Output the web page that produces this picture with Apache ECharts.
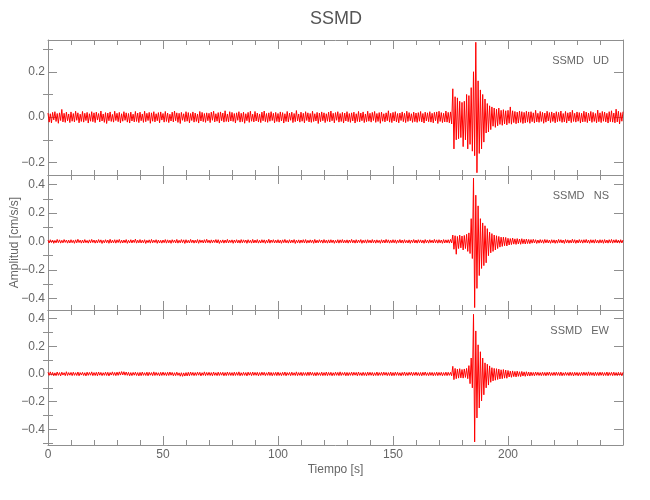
<!DOCTYPE html>
<html><head><meta charset="utf-8">
<script src="https://cdn.jsdelivr.net/npm/echarts@6/dist/echarts.min.js"></script>
<style>html,body{margin:0;padding:0;background:#fff}#c{width:650px;height:500px}</style>
</head><body><div id="c"></div>
<script>
// Sampling of the traces: one value every timeStep seconds, starting at t = 0
const timeStep = 0.5;
const xMin = 0, xMax = 250;
const xLabels = [0, 50, 100, 150, 200];

// Acceleration [cm/s/s], vertical component (UD)
const udValues = [
.018,-.022,.015,-.025,.021,-.012,.024,-.019,.016,-.027,.019,-.015,.034,-.021,.017,-.023,.022,-.016,.014,-.024,
.023,-.018,.016,-.021,.026,-.014,.019,-.025,.013,-.019,.025,-.022,.017,-.015,.021,-.026,.015,-.018,.024,-.02,
.019,-.024,.022,-.013,.016,-.021,.027,-.017,.014,-.023,.02,-.028,.018,-.016,.023,-.019,.012,-.022,.026,-.015,
.017,-.02,.021,-.025,.015,-.018,.024,-.014,.019,-.022,.016,-.026,.022,-.017,.013,-.021,.025,-.019,.018,-.024,
.022,-.016,.014,-.023,.026,-.02,.017,-.015,.021,-.027,.019,-.018,.024,-.021,.015,-.016,.02,-.025,.023,-.013,
.016,-.022,.025,-.019,.018,-.024,.013,-.017,.022,-.021,.027,-.016,.019,-.023,.017,-.028,.021,-.014,.015,-.02,
.024,-.018,.02,-.025,.016,-.015,.023,-.022,.018,-.019,.014,-.026,.025,-.017,.021,-.02,.016,-.023,.019,-.016,
.017,-.024,.022,-.014,.026,-.021,.015,-.018,.02,-.025,.023,-.016,.018,-.022,.028,-.019,.014,-.021,.024,-.017,
.021,-.019,.016,-.026,.019,-.014,.024,-.022,.017,-.02,.022,-.027,.015,-.016,.021,-.023,.026,-.018,.013,-.021,
.025,-.017,.018,-.021,.014,-.024,.022,-.016,.027,-.02,.016,-.023,.019,-.018,.024,-.015,.017,-.025,.021,-.019,
.016,-.022,.023,-.017,.02,-.026,.015,-.019,.025,-.021,.018,-.014,.022,-.024,.016,-.02,.029,-.017,.014,-.022,
.022,-.018,.017,-.025,.024,-.015,.019,-.021,.016,-.023,.026,-.019,.015,-.017,.021,-.028,.018,-.02,.023,-.016,
.019,-.024,.015,-.018,.022,-.021,.027,-.016,.017,-.025,.02,-.014,.024,-.022,.016,-.019,.021,-.026,.018,-.017,
.024,-.02,.016,-.023,.019,-.017,.022,-.026,.015,-.019,.025,-.021,.018,-.016,.023,-.024,.014,-.02,.026,-.018,
.017,-.022,.021,-.015,.025,-.023,.016,-.019,.02,-.027,.022,-.018,.015,-.021,.019,-.016,.028,-.022,.017,-.024,
.021,-.017,.024,-.021,.016,-.025,.018,-.015,.023,-.02,.017,-.024,.026,-.019,.02,-.016,.015,-.023,.022,-.02,
.018,-.023,.02,-.018,.025,-.021,.016,-.026,.022,-.017,.019,-.02,.024,-.022,.017,-.025,.021,-.016,.023,-.028,
.026,-.019,.02,-.024,.017,-.021,.027,-.022,.021,-.025,.023,-.03,.125,-.14,.09,-.1,.085,-.095,.07,-.09,
.065,-.13,.07,-.1,.1,-.14,.095,-.12,.13,-.15,.2,-.17,.33,-.245,.16,-.16,.12,-.14,.1,-.11,
.08,-.07,.06,-.065,.05,-.055,.045,-.04,.04,-.045,.035,-.038,.04,-.032,.03,-.036,.033,-.03,.028,-.034,
.03,-.027,.045,-.031,.028,-.024,.025,-.029,.022,-.026,.027,-.023,.024,-.028,.021,-.025,.026,-.022,.023,-.027,
.024,-.02,.019,-.026,.03,-.021,.017,-.023,.025,-.019,.021,-.027,.018,-.022,.026,-.017,.02,-.024,.023,-.019,
.018,-.025,.024,-.02,.021,-.018,.027,-.023,.016,-.021,.025,-.026,.019,-.017,.022,-.024,.03,-.019,.017,-.022,
.023,-.018,.02,-.026,.017,-.021,.026,-.02,.022,-.024,.018,-.017,.025,-.023,.021,-.019,.016,-.025,.031,-.02,
.019,-.024,.025,-.018,.022,-.021,.017,-.026,.024,-.02,.028,-.022,.018,-.025,.035,-.021,.026,-.03,.02,-.018,
.024];

// North-South component (NS)
const nsValues = [
.009,-.011,.012,-.008,.01,-.013,.007,-.01,.014,-.009,.011,-.012,.008,-.01,.013,-.007,.01,-.012,.009,-.011,
.012,-.009,.008,-.013,.011,-.01,.015,-.008,.009,-.012,.01,-.011,.013,-.009,.007,-.012,.011,-.01,.014,-.008,
.01,-.012,.009,-.011,.013,-.008,.011,-.014,.008,-.01,.012,-.009,.01,-.013,.015,-.011,.009,-.01,.012,-.012,
.011,-.008,.014,-.012,.009,-.011,.01,-.009,.013,-.013,.008,-.01,.012,-.011,.01,-.008,.016,-.012,.009,-.01,
.013,-.011,.009,-.01,.012,-.014,.008,-.009,.011,-.012,.014,-.01,.009,-.008,.012,-.013,.01,-.011,.008,-.012,
.01,-.009,.013,-.012,.011,-.01,.009,-.013,.012,-.008,.01,-.011,.014,-.012,.008,-.01,.013,-.009,.011,-.014,
.012,-.01,.008,-.011,.014,-.009,.01,-.012,.009,-.01,.013,-.013,.011,-.008,.009,-.011,.012,-.01,.015,-.009,
.009,-.012,.011,-.01,.01,-.008,.013,-.011,.012,-.014,.008,-.009,.011,-.012,.01,-.01,.014,-.011,.009,-.008,
.011,-.013,.01,-.009,.012,-.011,.009,-.012,.013,-.01,.011,-.008,.01,-.013,.012,-.009,.008,-.012,.014,-.011,
.01,-.01,.013,-.012,.008,-.011,.012,-.009,.011,-.013,.009,-.01,.015,-.012,.01,-.008,.012,-.011,.009,-.01,
.012,-.011,.009,-.013,.011,-.009,.014,-.01,.008,-.012,.012,-.011,.01,-.009,.013,-.014,.009,-.01,.011,-.012,
.01,-.009,.012,-.011,.013,-.012,.008,-.01,.011,-.009,.01,-.013,.014,-.011,.009,-.01,.012,-.008,.01,-.012,
.013,-.01,.009,-.012,.011,-.011,.012,-.009,.01,-.013,.008,-.01,.012,-.012,.011,-.009,.013,-.011,.009,-.01,
.011,-.012,.01,-.009,.014,-.01,.009,-.012,.012,-.011,.01,-.008,.013,-.013,.009,-.01,.011,-.012,.012,-.009,
.009,-.011,.013,-.01,.01,-.012,.011,-.009,.008,-.013,.012,-.01,.01,-.011,.014,-.009,.011,-.012,.009,-.01,
.012,-.01,.011,-.013,.009,-.009,.013,-.011,.01,-.012,.012,-.01,.008,-.011,.011,-.013,.01,-.009,.013,-.011,
.01,-.012,.012,-.009,.011,-.011,.009,-.013,.013,-.01,.01,-.012,.012,-.009,.009,-.011,.014,-.01,.011,-.012,
.012,-.01,.01,-.013,.013,-.011,.011,-.01,.012,-.012,.014,-.011,.045,-.055,.04,-.09,.035,-.05,.044,-.045,
.038,-.06,.042,-.05,.05,-.07,.06,-.085,.16,-.12,.445,-.465,.325,-.33,.25,-.24,.16,-.19,.13,-.17,
.11,-.15,.09,-.1,.065,-.08,.055,-.07,.045,-.06,.04,-.05,.035,-.04,.03,-.035,.03,-.03,.028,-.032,
.022,-.025,.02,-.022,.024,-.019,.018,-.021,.02,-.018,.017,-.02,.019,-.016,.015,-.018,.017,-.015,.014,-.016,
.013,-.012,.015,-.011,.012,-.014,.01,-.012,.013,-.01,.011,-.013,.014,-.01,.012,-.011,.01,-.013,.012,-.01,
.011,-.013,.01,-.012,.014,-.009,.012,-.011,.01,-.014,.013,-.01,.011,-.012,.009,-.011,.015,-.01,.012,-.013,
.01,-.011,.013,-.01,.011,-.012,.012,-.009,.014,-.011,.01,-.013,.012,-.01,.011,-.012,.013,-.011,.009,-.012,
.012,-.01,.011,-.013,.013,-.011,.01,-.012,.012,-.01,.014,-.012,.011,-.009,.013,-.011,.01,-.012,.012,-.011,
.01];

// East-West component (EW)
const ewValues = [
.012,-.01,.015,-.009,.011,-.013,.008,-.012,.014,-.01,.01,-.014,.013,-.008,.009,-.012,.016,-.011,.01,-.009,
.011,-.012,.013,-.01,.009,-.011,.014,-.013,.01,-.008,.012,-.011,.009,-.014,.013,-.01,.011,-.009,.015,-.012,
.01,-.011,.012,-.013,.014,-.009,.011,-.012,.009,-.01,.013,-.011,.012,-.014,.01,-.008,.015,-.01,.011,-.012,
.013,-.01,.015,-.008,.017,-.007,.016,-.009,.014,-.01,.012,-.013,.01,-.012,.011,-.009,.013,-.011,.01,-.014,
.011,-.012,.014,-.01,.009,-.011,.013,-.013,.012,-.009,.01,-.012,.015,-.011,.011,-.01,.009,-.013,.012,-.011,
.013,-.01,.01,-.012,.012,-.011,.014,-.009,.011,-.013,.009,-.012,.013,-.01,.008,-.016,.009,-.017,.008,-.015,
.01,-.014,.012,-.013,.014,-.01,.011,-.012,.01,-.011,.013,-.009,.012,-.014,.009,-.01,.015,-.012,.011,-.01,
.012,-.011,.01,-.013,.014,-.01,.009,-.012,.013,-.011,.011,-.009,.012,-.013,.01,-.012,.014,-.01,.011,-.011,
.01,-.012,.013,-.011,.011,-.01,.015,-.013,.009,-.011,.012,-.01,.01,-.014,.013,-.009,.011,-.012,.014,-.01,
.011,-.01,.012,-.013,.01,-.011,.013,-.009,.012,-.012,.009,-.01,.014,-.011,.011,-.013,.01,-.01,.012,-.012,
.013,-.011,.009,-.012,.012,-.01,.014,-.013,.01,-.009,.011,-.012,.013,-.01,.009,-.011,.015,-.012,.01,-.01,
.012,-.013,.011,-.01,.01,-.012,.013,-.011,.014,-.009,.011,-.012,.01,-.013,.012,-.01,.009,-.011,.013,-.012,
.01,-.011,.014,-.012,.011,-.01,.012,-.013,.009,-.011,.013,-.01,.011,-.012,.015,-.011,.01,-.009,.012,-.013,
.011,-.012,.01,-.01,.013,-.011,.012,-.009,.011,-.013,.014,-.01,.009,-.012,.012,-.011,.01,-.013,.013,-.01,
.012,-.01,.011,-.013,.009,-.011,.014,-.012,.01,-.01,.012,-.011,.013,-.009,.011,-.012,.01,-.011,.014,-.013,
.01,-.012,.013,-.01,.012,-.011,.009,-.013,.011,-.01,.014,-.012,.01,-.011,.012,-.009,.013,-.012,.011,-.01,
.013,-.011,.01,-.012,.011,-.013,.012,-.01,.014,-.011,.009,-.012,.012,-.01,.011,-.013,.01,-.011,.013,-.012,
.011,-.01,.012,-.013,.01,-.011,.013,-.012,.012,-.01,.011,-.013,.055,-.041,.04,-.034,.035,-.03,.038,-.028,
.032,-.03,.036,-.025,.04,-.034,.06,-.07,.115,-.1,.43,-.49,.31,-.317,.21,-.245,.16,-.194,.115,-.15,
.08,-.1,.07,-.08,.058,-.06,.045,-.05,.04,-.045,.038,-.04,.035,-.036,.03,-.034,.032,-.03,.028,-.031,
.025,-.022,.02,-.024,.022,-.019,.018,-.021,.02,-.017,.016,-.019,.018,-.015,.015,-.017,.016,-.014,.014,-.015,
.013,-.012,.011,-.013,.014,-.01,.012,-.011,.01,-.012,.013,-.011,.011,-.013,.012,-.01,.014,-.012,.01,-.011,
.012,-.011,.013,-.01,.011,-.012,.014,-.013,.009,-.011,.012,-.01,.01,-.012,.013,-.011,.011,-.014,.012,-.01,
.011,-.013,.01,-.012,.012,-.011,.013,-.01,.011,-.012,.015,-.011,.012,-.01,.01,-.013,.013,-.011,.011,-.012,
.013,-.01,.012,-.012,.01,-.011,.014,-.013,.011,-.01,.012,-.012,.013,-.011,.01,-.012,.012,-.01,.011,-.013,
.012];

// Panel labels, y ranges and y tick values
const panelNames = ['SSMD   UD', 'SSMD   NS', 'SSMD   EW'];
const yRanges = [[-0.255, 0.34], [-0.482, 0.467], [-0.512, 0.461]];
const yMajorTicks = [[-0.2, 0, 0.2], [-0.4, -0.2, 0, 0.2, 0.4], [-0.4, -0.2, 0, 0.2, 0.4]];
const yMinorTicks = [[-0.1, 0.1, 0.3], [-0.3, -0.1, 0.1, 0.3], [-0.5, -0.3, -0.1, 0.1, 0.3]];
const seriesValues = [udValues, nsValues, ewValues];

const FONT = "'Liberation Sans Narrow','Liberation Sans',sans-serif";
const AXIS = '#8f8f8f';
const TXT = '#666666';

const gridTops = [40, 175, 310];
const grids = gridTops.map(t => ({left: 48, right: 27, top: t, height: 135, containLabel: false, outerBoundsMode: 'none'}));

const xAxes = [];
const yAxes = [];
const series = [];
const titles = [{
  text: 'SSMD', left: 336, top: 10, textAlign: 'center', padding: 0,
  textStyle: {fontFamily: FONT, fontSize: 18, fontWeight: 'normal', color: '#555'}
}];

const fmt = v => (v < 0 ? '\u2212' : '') + Math.abs(v).toFixed(1);

for (let g = 0; g < 3; g++) {
  const isLast = g === 2;
  ['bottom', 'top'].forEach(pos => {
    const showLab = isLast && pos === 'bottom';
    xAxes.push({
      type: 'value', gridIndex: g, position: pos, min: xMin, max: xMax, interval: 50,
      axisLine: {show: true, onZero: false, lineStyle: {color: AXIS, width: 1}},
      axisTick: {show: true, inside: true, length: 9, lineStyle: {color: AXIS}},
      minorTick: {show: true, splitNumber: 5, length: 5, lineStyle: {color: AXIS}},
      splitLine: {show: false}, minorSplitLine: {show: false},
      axisLabel: {
        show: showLab, margin: 4, fontFamily: FONT, fontSize: 12, color: TXT,
        formatter: v => (xLabels.indexOf(v) >= 0 ? String(v) : '')
      },
      name: showLab ? 'Tiempo [s]' : '', nameLocation: 'middle', nameGap: 19, nameMoveOverlap: false,
      nameTextStyle: {fontFamily: FONT, fontSize: 12, color: TXT}
    });
  });
  const [ymin, ymax] = yRanges[g];
  ['left', 'right'].forEach(side => {
    const isLeft = side === 'left';
    yAxes.push({
      type: 'value', gridIndex: g, position: side, min: ymin, max: ymax,
      axisLine: {show: true, onZero: false, lineStyle: {color: AXIS, width: 1}},
      axisTick: {show: true, inside: true, length: 9, customValues: yMajorTicks[g], lineStyle: {color: AXIS}},
      axisLabel: {
        show: isLeft, customValues: yMajorTicks[g], margin: 3, fontFamily: FONT, fontSize: 12,
        color: TXT, formatter: fmt
      },
      splitLine: {show: false},
      name: (isLeft && g === 1) ? 'Amplitud [cm/s/s]' : '', nameLocation: 'middle', nameRotate: 90,
      nameGap: 27, nameMoveOverlap: false,
      nameTextStyle: {fontFamily: FONT, fontSize: 12, color: TXT}
    });
    yAxes.push({
      type: 'value', gridIndex: g, position: side, min: ymin, max: ymax,
      axisLine: {show: false},
      axisTick: {show: true, inside: true, length: 5, customValues: yMinorTicks[g], lineStyle: {color: AXIS}},
      axisLabel: {show: false, customValues: yMinorTicks[g]},
      splitLine: {show: false}
    });
  });
  titles.push({
    text: panelNames[g], right: 41, top: gridTops[g] + 15, padding: 0,
    textStyle: {fontFamily: FONT, fontSize: 11, fontWeight: 'normal', color: TXT}
  });
  series.push({
    type: 'line', xAxisIndex: g * 2, yAxisIndex: g * 4,
    data: seriesValues[g].map((v, i) => [i * timeStep, v]),
    symbol: 'none', showSymbol: false, sampling: null, clip: true,
    lineStyle: {color: '#ff0000', width: 1}, itemStyle: {color: '#ff0000'},
    animation: false, silent: true
  });
}

const chart = echarts.init(document.getElementById('c'), null, {renderer: 'canvas'});
chart.setOption({
  backgroundColor: '#ffffff',
  animation: false,
  title: titles,
  grid: grids,
  xAxis: xAxes,
  yAxis: yAxes,
  series: series
});
</script>
</body></html>
